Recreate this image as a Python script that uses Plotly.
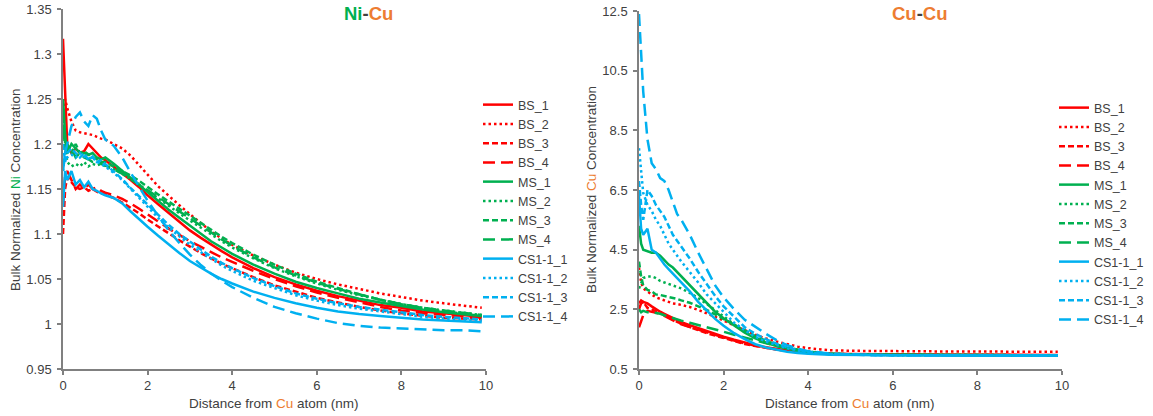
import plotly.graph_objects as go

# Distance from the Cu atom (nm), shared by every profile
distance_nm = [0, 0.05, 0.1, 0.2, 0.3, 0.4, 0.5, 0.6, 0.7, 0.8, 0.9, 1.0,
               1.2, 1.4, 1.6, 1.8, 2.0, 2.25, 2.5, 2.75, 3.0, 3.25, 3.5, 3.75,
               4.0, 4.5, 5.0, 5.5, 6.0, 6.5, 7.0, 7.5, 8.0, 8.5, 9.0, 9.5, 9.9]

series_names = ["BS_1", "BS_2", "BS_3", "BS_4",
                "MS_1", "MS_2", "MS_3", "MS_4",
                "CS1-1_1", "CS1-1_2", "CS1-1_3", "CS1-1_4"]

# Bulk normalized Ni concentration around Cu atoms (Ni-Cu)
ni_bs_1 = [1.317, 1.25, 1.200, 1.190, 1.195, 1.190, 1.192, 1.200, 1.195, 1.190, 1.185, 1.182,
           1.175, 1.168, 1.160, 1.152, 1.143, 1.133, 1.123, 1.113, 1.104, 1.096, 1.088, 1.081,
           1.074, 1.062, 1.052, 1.044, 1.037, 1.031, 1.026, 1.021, 1.018, 1.014, 1.012, 1.010, 1.008]
ni_bs_2 = [1.23, 1.25, 1.24, 1.225, 1.215, 1.213, 1.212, 1.211, 1.210, 1.208, 1.206, 1.205,
           1.200, 1.195, 1.187, 1.177, 1.166, 1.153, 1.142, 1.132, 1.122, 1.112, 1.103, 1.095,
           1.088, 1.076, 1.066, 1.057, 1.050, 1.044, 1.039, 1.034, 1.030, 1.026, 1.023, 1.020, 1.018]
ni_bs_3 = [1.10, 1.15, 1.163, 1.158, 1.152, 1.150, 1.152, 1.148, 1.150, 1.147, 1.145, 1.144,
           1.140, 1.135, 1.129, 1.123, 1.116, 1.108, 1.100, 1.093, 1.086, 1.079, 1.073, 1.067,
           1.062, 1.052, 1.043, 1.036, 1.029, 1.024, 1.019, 1.015, 1.012, 1.009, 1.007, 1.006, 1.005]
ni_bs_4 = [1.13, 1.165, 1.170, 1.160, 1.150, 1.155, 1.150, 1.155, 1.150, 1.152, 1.148, 1.146,
           1.143, 1.139, 1.134, 1.128, 1.122, 1.114, 1.106, 1.099, 1.092, 1.086, 1.080, 1.074,
           1.069, 1.059, 1.050, 1.042, 1.035, 1.029, 1.024, 1.019, 1.015, 1.012, 1.010, 1.008, 1.007]
ni_ms_1 = [1.25, 1.21, 1.19, 1.200, 1.195, 1.190, 1.190, 1.188, 1.190, 1.185, 1.183, 1.185,
           1.178, 1.170, 1.162, 1.155, 1.147, 1.137, 1.127, 1.118, 1.109, 1.100, 1.092, 1.085,
           1.078, 1.066, 1.056, 1.047, 1.040, 1.034, 1.028, 1.024, 1.020, 1.016, 1.013, 1.011, 1.009]
ni_ms_2 = [1.24, 1.20, 1.18, 1.175, 1.178, 1.175, 1.180, 1.175, 1.178, 1.176, 1.178, 1.175,
           1.172, 1.167, 1.161, 1.155, 1.148, 1.140, 1.131, 1.123, 1.115, 1.107, 1.099, 1.092,
           1.085, 1.073, 1.062, 1.053, 1.045, 1.038, 1.032, 1.027, 1.022, 1.018, 1.015, 1.012, 1.010]
ni_ms_3 = [1.23, 1.19, 1.20, 1.190, 1.200, 1.190, 1.192, 1.188, 1.185, 1.183, 1.180, 1.180,
           1.175, 1.170, 1.165, 1.159, 1.152, 1.144, 1.136, 1.128, 1.120, 1.112, 1.104, 1.097,
           1.090, 1.077, 1.066, 1.056, 1.047, 1.040, 1.033, 1.027, 1.022, 1.018, 1.014, 1.011, 1.009]
ni_ms_4 = [1.22, 1.20, 1.19, 1.195, 1.185, 1.190, 1.185, 1.183, 1.180, 1.180, 1.178, 1.176,
           1.172, 1.167, 1.161, 1.155, 1.149, 1.141, 1.133, 1.125, 1.117, 1.109, 1.101, 1.094,
           1.087, 1.074, 1.063, 1.054, 1.046, 1.039, 1.033, 1.027, 1.022, 1.018, 1.015, 1.012, 1.010]
ni_cs_1 = [1.13, 1.17, 1.16, 1.170, 1.155, 1.160, 1.152, 1.158, 1.150, 1.148, 1.145, 1.143,
           1.140, 1.134, 1.125, 1.116, 1.108, 1.098, 1.088, 1.079, 1.070, 1.063, 1.056, 1.050,
           1.045, 1.036, 1.029, 1.023, 1.018, 1.014, 1.011, 1.009, 1.007, 1.005, 1.004, 1.003, 1.002]
ni_cs_2 = [1.17, 1.19, 1.185, 1.188, 1.185, 1.190, 1.186, 1.184, 1.185, 1.180, 1.178, 1.175,
           1.168, 1.160, 1.150, 1.140, 1.130, 1.118, 1.107, 1.097, 1.088, 1.080, 1.072, 1.065,
           1.059, 1.048, 1.040, 1.032, 1.026, 1.021, 1.017, 1.014, 1.011, 1.008, 1.006, 1.005, 1.004]
ni_cs_3 = [1.20, 1.18, 1.19, 1.195, 1.190, 1.185, 1.190, 1.182, 1.186, 1.180, 1.182, 1.178,
           1.170, 1.161, 1.151, 1.142, 1.133, 1.121, 1.110, 1.100, 1.091, 1.083, 1.075, 1.068,
           1.062, 1.051, 1.042, 1.034, 1.028, 1.023, 1.019, 1.016, 1.013, 1.010, 1.008, 1.006, 1.005]
ni_cs_4 = [1.17, 1.19, 1.20, 1.220, 1.230, 1.235, 1.225, 1.220, 1.232, 1.228, 1.215, 1.205,
           1.198, 1.185, 1.168, 1.152, 1.137, 1.120, 1.104, 1.090, 1.077, 1.066, 1.056, 1.048,
           1.041, 1.029, 1.019, 1.012, 1.006, 1.001, 0.998, 0.996, 0.995, 0.994, 0.993, 0.993, 0.992]

# Bulk normalized Cu concentration around Cu atoms (Cu-Cu)
cu_bs_1 = [2.5, 2.7, 2.75, 2.70, 2.60, 2.50, 2.42, 2.35, 2.28, 2.20, 2.13, 2.07,
           1.97, 1.87, 1.77, 1.68, 1.58, 1.48, 1.38, 1.30, 1.23, 1.17, 1.12, 1.08,
           1.05, 1.01, 1.00, 0.99, 0.99, 0.98, 0.98, 0.98, 0.98, 0.97, 0.97, 0.97, 0.97]
cu_bs_2 = [3.9, 3.4, 3.2, 3.10, 3.00, 2.90, 2.85, 2.80, 2.75, 2.70, 2.68, 2.65,
           2.58, 2.48, 2.37, 2.25, 2.12, 1.95, 1.80, 1.65, 1.52, 1.42, 1.33, 1.25,
           1.20, 1.13, 1.11, 1.10, 1.10, 1.09, 1.09, 1.09, 1.08, 1.08, 1.08, 1.08, 1.08]
cu_bs_3 = [2.7, 2.8, 2.75, 2.55, 2.50, 2.45, 2.38, 2.30, 2.22, 2.15, 2.08, 2.02,
           1.90, 1.80, 1.70, 1.62, 1.53, 1.43, 1.34, 1.27, 1.20, 1.15, 1.10, 1.07,
           1.04, 1.01, 0.99, 0.98, 0.98, 0.98, 0.97, 0.97, 0.97, 0.97, 0.97, 0.96, 0.96]
cu_bs_4 = [1.9, 2.1, 2.3, 2.45, 2.42, 2.40, 2.35, 2.28, 2.20, 2.12, 2.06, 2.00,
           1.90, 1.82, 1.73, 1.64, 1.55, 1.45, 1.36, 1.28, 1.21, 1.16, 1.11, 1.07,
           1.04, 1.01, 0.99, 0.98, 0.98, 0.97, 0.97, 0.97, 0.97, 0.97, 0.96, 0.96, 0.96]
cu_ms_1 = [5.3, 4.7, 4.5, 4.45, 4.40, 4.40, 4.30, 4.15, 4.00, 3.90, 3.75, 3.60,
           3.30, 3.00, 2.70, 2.42, 2.20, 1.95, 1.72, 1.53, 1.38, 1.27, 1.18, 1.10,
           1.05, 1.00, 0.98, 0.97, 0.97, 0.97, 0.97, 0.96, 0.96, 0.96, 0.96, 0.96, 0.96]
cu_ms_2 = [3.2, 3.4, 3.55, 3.60, 3.60, 3.55, 3.45, 3.40, 3.35, 3.30, 3.25, 3.20,
           3.05, 2.88, 2.68, 2.47, 2.25, 1.98, 1.74, 1.55, 1.40, 1.28, 1.19, 1.12,
           1.06, 1.01, 0.99, 0.98, 0.98, 0.97, 0.97, 0.97, 0.97, 0.97, 0.96, 0.96, 0.96]
cu_ms_3 = [4.1, 3.6, 3.3, 3.15, 3.10, 3.00, 2.98, 2.95, 2.92, 2.90, 2.85, 2.80,
           2.72, 2.60, 2.48, 2.33, 2.18, 1.98, 1.78, 1.60, 1.45, 1.32, 1.22, 1.14,
           1.08, 1.01, 0.99, 0.98, 0.98, 0.97, 0.97, 0.97, 0.97, 0.96, 0.96, 0.96, 0.96]
cu_ms_4 = [2.5, 2.4, 2.45, 2.40, 2.40, 2.38, 2.35, 2.30, 2.25, 2.20, 2.15, 2.12,
           2.05, 1.98, 1.90, 1.82, 1.75, 1.65, 1.55, 1.45, 1.36, 1.27, 1.20, 1.13,
           1.08, 1.01, 0.99, 0.98, 0.97, 0.97, 0.97, 0.97, 0.96, 0.96, 0.96, 0.96, 0.96]
cu_cs_1 = [6.3, 5.2, 5.0, 5.20, 4.50, 4.40, 4.20, 4.00, 3.85, 3.70, 3.55, 3.40,
           3.10, 2.75, 2.45, 2.18, 1.95, 1.70, 1.50, 1.33, 1.22, 1.14, 1.08, 1.04,
           1.01, 0.98, 0.97, 0.96, 0.96, 0.96, 0.95, 0.95, 0.95, 0.95, 0.95, 0.95, 0.95]
cu_cs_2 = [7.9, 7.0, 6.4, 6.00, 5.80, 5.50, 5.30, 5.00, 4.70, 4.50, 4.30, 4.10,
           3.75, 3.40, 3.00, 2.70, 2.40, 2.05, 1.80, 1.58, 1.42, 1.30, 1.20, 1.12,
           1.06, 1.00, 0.98, 0.97, 0.96, 0.96, 0.96, 0.95, 0.95, 0.95, 0.95, 0.95, 0.95]
cu_cs_3 = [6.8, 6.0, 5.5, 6.50, 6.30, 6.00, 5.80, 5.60, 5.30, 5.00, 4.80, 4.60,
           4.20, 3.75, 3.35, 2.95, 2.60, 2.25, 1.90, 1.68, 1.50, 1.35, 1.23, 1.14,
           1.08, 1.00, 0.98, 0.97, 0.96, 0.96, 0.96, 0.96, 0.95, 0.95, 0.95, 0.95, 0.95]
cu_cs_4 = [12.4, 11.0, 9.8, 8.20, 7.40, 7.20, 6.90, 6.80, 6.50, 6.10, 5.70, 5.50,
           5.00, 4.40, 3.85, 3.30, 2.90, 2.50, 2.15, 1.90, 1.68, 1.47, 1.30, 1.18,
           1.10, 1.02, 0.98, 0.96, 0.96, 0.96, 0.95, 0.95, 0.95, 0.95, 0.95, 0.95, 0.95]

ni_series = [ni_bs_1, ni_bs_2, ni_bs_3, ni_bs_4, ni_ms_1, ni_ms_2, ni_ms_3, ni_ms_4,
             ni_cs_1, ni_cs_2, ni_cs_3, ni_cs_4]
cu_series = [cu_bs_1, cu_bs_2, cu_bs_3, cu_bs_4, cu_ms_1, cu_ms_2, cu_ms_3, cu_ms_4,
             cu_cs_1, cu_cs_2, cu_cs_3, cu_cs_4]

# Axis ticks
x_ticks = [0, 2, 4, 6, 8, 10]
ni_ticks = [0.95, 1.0, 1.05, 1.1, 1.15, 1.2, 1.25, 1.3, 1.35]
ni_tick_text = ["0.95", "1", "1.05", "1.1", "1.15", "1.2", "1.25", "1.3", "1.35"]
cu_ticks = [0.5, 2.5, 4.5, 6.5, 8.5, 10.5, 12.5]
cu_tick_text = ["0.5", "2.5", "4.5", "6.5", "8.5", "10.5", "12.5"]

RED, GREEN, BLUE = "#FF0000", "#00B050", "#00B0F0"
ORANGE, TEXT, AXIS = "#ED7D31", "#404040", "#808080"
colors = [RED] * 4 + [GREEN] * 4 + [BLUE] * 4
dashes = ["solid", "2.5px,3px", "6px,3px", "12px,6px"] * 3
FONT = "Liberation Sans, Arial, sans-serif"

W, H = 1153, 416


def px_x(p):
    return p / W


def px_y(p):
    return 1 - p / H


fig = go.Figure()
for name, ys, c, d in zip(series_names, ni_series, colors, dashes):
    fig.add_trace(go.Scatter(x=distance_nm, y=ys, name=name, mode="lines",
                             line=dict(color=c, width=2.5, dash=d),
                             xaxis="x", yaxis="y", legend="legend"))
for name, ys, c, d in zip(series_names, cu_series, colors, dashes):
    fig.add_trace(go.Scatter(x=distance_nm, y=ys, name=name, mode="lines",
                             line=dict(color=c, width=2.5, dash=d),
                             xaxis="x2", yaxis="y2", legend="legend2"))

common = dict(showgrid=False, zeroline=False, showline=True, linecolor=AXIS,
              linewidth=1.5, ticks="outside", ticklen=4, tickwidth=1.5, automargin=False,
              tickcolor=AXIS, tickfont=dict(family=FONT, size=13, color=TEXT))
inner = dict(showgrid=False, zeroline=False, showline=False, ticks="inside", automargin=False,
             ticklen=3, tickwidth=1.5, tickcolor=AXIS, showticklabels=False)

left_dom = [px_x(63), px_x(486)]
right_dom = [px_x(639), px_x(1062)]
ni_dom = [px_y(369), px_y(9)]
cu_dom = [px_y(369), px_y(11)]

legend_style = dict(xanchor="left", yanchor="top", bgcolor="rgba(0,0,0,0)",
                    font=dict(family=FONT, size=12.5, color=TEXT),
                    tracegroupgap=0, itemwidth=30, borderwidth=0)

fig.update_layout(
    template="none",
    width=W, height=H,
    margin=dict(l=0, r=0, t=0, b=0, pad=0, autoexpand=False),
    paper_bgcolor="white", plot_bgcolor="white",
    font=dict(family=FONT, color=TEXT),
    xaxis=dict(domain=left_dom, anchor="y", range=[0, 10], tickvals=x_ticks, **common),
    yaxis=dict(domain=ni_dom, anchor="x", range=[0.95, 1.35], tickvals=ni_ticks,
               ticktext=ni_tick_text, ticklabelstandoff=3, **common),
    xaxis2=dict(domain=right_dom, anchor="y2", range=[0, 10], tickvals=x_ticks, **common),
    yaxis2=dict(domain=cu_dom, anchor="x2", range=[0.5, 12.5], tickvals=cu_ticks,
                ticktext=cu_tick_text, ticklabelstandoff=3, **common),
    # inward half of the crossing tick marks
    xaxis3=dict(overlaying="x", anchor="y", range=[0, 10], tickvals=x_ticks, **inner),
    yaxis3=dict(overlaying="y", anchor="x", range=[0.95, 1.35], tickvals=ni_ticks, **inner),
    xaxis4=dict(overlaying="x2", anchor="y2", range=[0, 10], tickvals=x_ticks, **inner),
    yaxis4=dict(overlaying="y2", anchor="x2", range=[0.5, 12.5], tickvals=cu_ticks, **inner),
    legend=dict(x=px_x(478), y=px_y(90), **legend_style),
    legend2=dict(x=px_x(1054), y=px_y(93), **legend_style),
    showlegend=True,
)

title_font = dict(family=FONT, size=18.5, color=TEXT)
label_font = dict(family=FONT, size=13.5, color=TEXT)
annotations = [
    dict(x=px_x(368), y=px_y(14), text=f"<b><span style='color:{GREEN}'>Ni</span>-"
         f"<span style='color:{ORANGE}'>Cu</span></b>", font=title_font),
    dict(x=px_x(920), y=px_y(14), text=f"<b><span style='color:{ORANGE}'>Cu</span>-"
         f"<span style='color:{ORANGE}'>Cu</span></b>", font=title_font),
    dict(x=px_x(274), y=px_y(403), text=f"Distance from <span style='color:{ORANGE}'>Cu</span> atom (nm)",
         font=label_font),
    dict(x=px_x(850), y=px_y(403), text=f"Distance from <span style='color:{ORANGE}'>Cu</span> atom (nm)",
         font=label_font),
    dict(x=px_x(16), y=px_y(190), text=f"Bulk Normalized <span style='color:{GREEN}'>Ni</span> Concentration",
         font=label_font, textangle=-90),
    dict(x=px_x(592), y=px_y(190), text=f"Bulk Normalized <span style='color:{ORANGE}'>Cu</span> Concentration",
         font=label_font, textangle=-90),
]
for a in annotations:
    fig.add_annotation(xref="paper", yref="paper", showarrow=False,
                       xanchor="center", yanchor="middle", **a)

fig.write_html("out.html")
